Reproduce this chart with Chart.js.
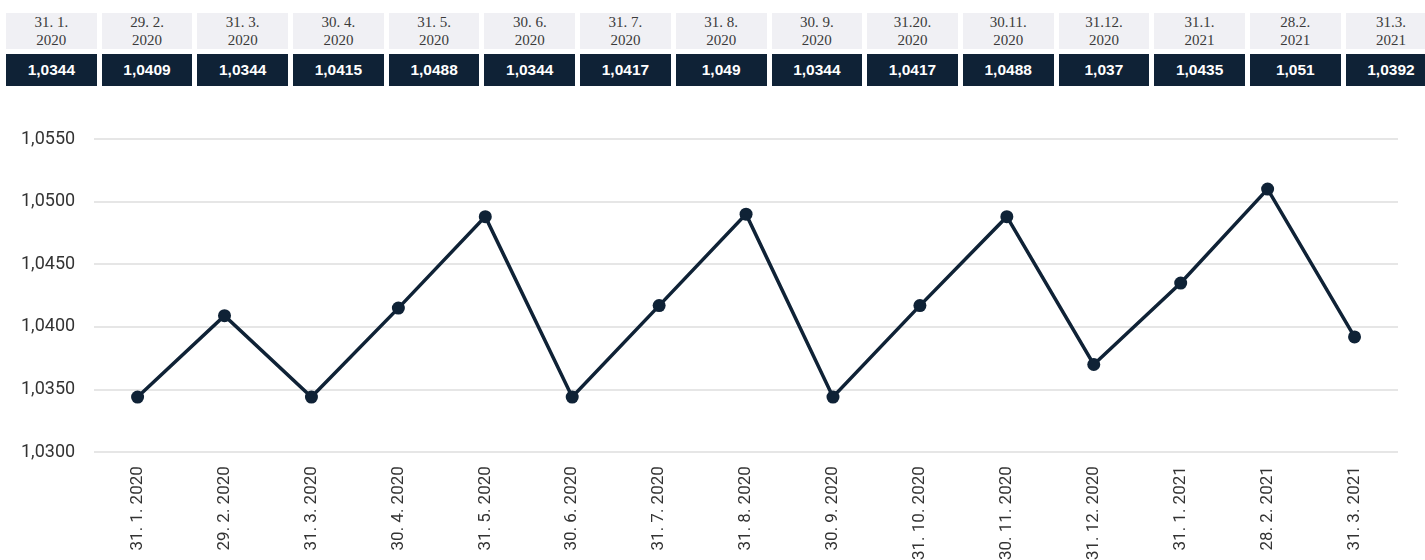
<!DOCTYPE html>
<html>
<head>
<meta charset="utf-8">
<script src="https://cdn.jsdelivr.net/npm/chart.js@4.4.1/dist/chart.umd.min.js"></script>
<style>
  html, body { margin: 0; padding: 0; background: #fff; width: 1425px; height: 560px; overflow: hidden; }
  #header { position: absolute; left: 6px; top: 13px; display: flex; gap: 5px; width: 1440px; }
  .col { width: 90.7px; flex: 0 0 90.7px; }
  .date { height: 36px; background: #f0f0f4; color: #3a3a3a; font-family: "Liberation Serif", serif; font-size: 15px; line-height: 18px; text-align: center; }
  .val { margin-top: 5px; height: 32px; line-height: 32px; background: #0f2236; color: #fff; font-family: "Liberation Sans", Arial, sans-serif; font-weight: bold; font-size: 15.5px; text-align: center; }
  #wrap { position: absolute; left: 0; top: 100px; width: 1425px; height: 480px; }
</style>
</head>
<body>
<div id="header"></div>
<div id="wrap"><canvas id="c"></canvas></div>
<script>
const headerDates = ["31. 1.\n2020", "29. 2.\n2020", "31. 3.\n2020", "30. 4.\n2020", "31. 5.\n2020", "30. 6.\n2020", "31. 7.\n2020", "31. 8.\n2020", "30. 9.\n2020", "31.20.\n2020", "30.11.\n2020", "31.12.\n2020", "31.1.\n2021", "28.2.\n2021", "31.3.\n2021"];
const categories = ["31. 1. 2020", "29. 2. 2020", "31. 3. 2020", "30. 4. 2020", "31. 5. 2020", "30. 6. 2020", "31. 7. 2020", "31. 8. 2020", "30. 9. 2020", "31. 10. 2020", "30. 11. 2020", "31. 12. 2020", "31. 1. 2021", "28. 2. 2021", "31. 3. 2021"];
const values = [1.0344, 1.0409, 1.0344, 1.0415, 1.0488, 1.0344, 1.0417, 1.049, 1.0344, 1.0417, 1.0488, 1.037, 1.0435, 1.051, 1.0392];
const yMin = 1.03, yMax = 1.055, yStep = 0.005;

const header = document.getElementById('header');
headerDates.forEach((d, i) => {
  const col = document.createElement('div'); col.className = 'col';
  const dt = document.createElement('div'); dt.className = 'date';
  d.split('\n').forEach((line, j) => { if (j) dt.appendChild(document.createElement('br')); dt.appendChild(document.createTextNode(line)); });
  const v = document.createElement('div'); v.className = 'val';
  v.textContent = String(values[i]).replace('.', ',');
  col.appendChild(dt); col.appendChild(v); header.appendChild(col);
});

const navy = '#0f2236';
new Chart(document.getElementById('c'), {
  type: 'line',
  data: {
    labels: categories,
    datasets: [{
      data: values,
      borderColor: navy,
      backgroundColor: navy,
      borderWidth: 3.5,
      pointRadius: 6.5,
      pointHoverRadius: 6.5,
      pointBackgroundColor: navy,
      pointBorderWidth: 0,
      tension: 0,
      fill: false
    }]
  },
  options: {
    responsive: true,
    maintainAspectRatio: false,
    animation: false,
    layout: { padding: { top: 39, right: 27, bottom: 6, left: 2 } },
    plugins: { legend: { display: false }, tooltip: { enabled: false } },
    scales: {
      x: {
        offset: true,
        grid: { display: false, drawTicks: false },
        border: { display: false },
        ticks: { minRotation: 90, maxRotation: 90, padding: 14, color: '#333', font: { family: 'Roboto', size: 17 } }
      },
      y: {
        min: yMin, max: yMax,
        grid: { color: '#e6e6e6', lineWidth: 2, drawTicks: false },
        border: { display: false },
        ticks: { stepSize: yStep, padding: 19, color: '#333', font: { family: 'Roboto', size: 18 },
          callback: v => v.toFixed(4).replace('.', ',') }
      }
    }
  }
});
</script>
</body>
</html>
